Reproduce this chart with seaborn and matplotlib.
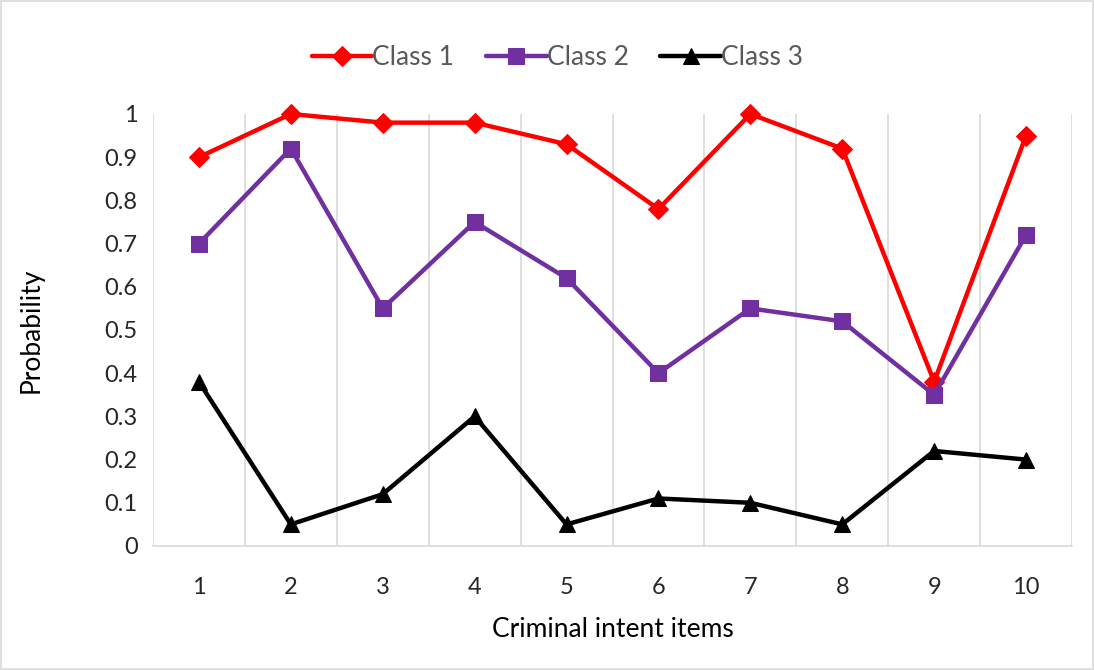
import numpy as np
import pandas as pd
import matplotlib
matplotlib.use("Agg")
import matplotlib.pyplot as plt
import seaborn as sns
from matplotlib.patches import Rectangle

# data
items = [1, 2, 3, 4, 5, 6, 7, 8, 9, 10]
class1 = [0.90, 1.00, 0.98, 0.98, 0.93, 0.78, 1.00, 0.92, 0.38, 0.95]
class2 = [0.70, 0.92, 0.55, 0.75, 0.62, 0.40, 0.55, 0.52, 0.35, 0.72]
class3 = [0.38, 0.05, 0.12, 0.30, 0.05, 0.11, 0.10, 0.05, 0.22, 0.20]
series_names = ["Class 1", "Class 2", "Class 3"]

sns.set_style("white")
plt.rcParams['font.family'] = ['Lato', 'DejaVu Sans']

fig = plt.figure(figsize=(10.94, 6.70), dpi=100)
ax = fig.add_axes([153/1094, 1-546/670, (1072-153)/1094, (546-114)/670])

colors = ["#FF0000", "#7030A0", "#000000"]
markers = ["D", "s", "^"]
msizes = [10.5, 12, 12]
for vals, name, c, m, ms in zip([class1, class2, class3], series_names, colors, markers, msizes):
    df = pd.DataFrame({"item": items, "prob": vals})
    sns.lineplot(data=df, x="item", y="prob", ax=ax, color=c, marker=m,
                 markersize=ms, markeredgecolor=c, linewidth=3.2, label=name,
                 clip_on=False, zorder=3)

ax.set_xlim(0.5, 10.5)
ax.set_ylim(0, 1)
ax.set_xticks(items)
ax.set_xticklabels([str(i) for i in items])
ax.set_yticks(np.round(np.arange(0, 1.01, 0.1), 1))
ax.set_yticklabels(["0"] + [f"{v:.1f}" for v in np.arange(0.1, 0.95, 0.1)] + ["1"])
ax.set_xticks(np.arange(0.5, 10.6, 1), minor=True)
ax.grid(which="minor", axis="x", color="#D9D9D9", linewidth=1.2)
ax.grid(which="major", axis="both", visible=False)
ax.tick_params(axis="both", which="both", length=0, labelsize=17, colors="#262626")
ax.tick_params(axis="x", pad=22)
ax.tick_params(axis="y", pad=11)
for s in ["top", "right", "left"]:
    ax.spines[s].set_visible(False)
ax.spines["bottom"].set_color("#D9D9D9")
ax.spines["bottom"].set_linewidth(1.2)

ax.set_xlabel("Criminal intent items", fontsize=19, color="#000000", labelpad=14)
ax.set_ylabel("Probability", fontsize=19, color="#000000", labelpad=44)

ax.legend(loc="center", bbox_to_anchor=(0.44, 1.13), ncol=3, frameon=False,
          fontsize=19, handlelength=2.3, columnspacing=1.2, handletextpad=0.0,
          labelcolor="#595959")

fig.patches.append(Rectangle((0.001, 0.0015), 0.998, 0.997, transform=fig.transFigure,
                             fill=False, edgecolor="#D9D9D9", linewidth=1.2))

fig.savefig("out.png", dpi=100)
